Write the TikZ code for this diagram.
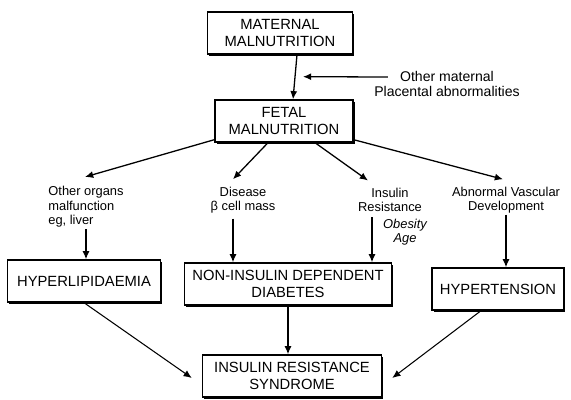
\documentclass[tikz,border=0pt]{standalone}
\usepackage{fontspec}
\setsansfont{Liberation Sans}
\usetikzlibrary{arrows.meta,calc,shadows}

\begin{document}
\begin{tikzpicture}[x=0.03cm,y=-0.03cm,
  box/.style={draw,line width=1.2pt,fill=white,align=center,minimum height=1.26cm,
    font=\sffamily\fontsize{12.6}{15}\selectfont,
    drop shadow={shadow xshift=1.3pt,shadow yshift=-1.3pt,opacity=1,fill=black}},
  lbl/.style={align=center,font=\sffamily\fontsize{11}{12.5}\selectfont,inner sep=1pt},
  arr/.style={line width=1.1pt,-{Latex[length=7pt,width=6pt]}}]
\useasboundingbox (0,0) rectangle (571,400);
% boxes
\node[box,minimum width=4.35cm] (mat) at (280,33) {MATERNAL\\MALNUTRITION};
\node[box,minimum width=4.14cm] (fet) at (284,121) {FETAL\\MALNUTRITION};
\node[box,minimum width=4.6cm] (hyp) at (84,281) {HYPERLIPIDAEMIA};
\node[box,minimum width=6.2cm] (nidd) at (288,284) {NON-INSULIN DEPENDENT\\DIABETES};
\node[box,minimum width=3.95cm] (ht) at (498,289) {HYPERTENSION};
\node[box,minimum width=5.37cm] (irs) at (292,376) {INSULIN RESISTANCE\\SYNDROME};
% labels
\node[lbl,font=\sffamily\fontsize{12}{13}\selectfont] (oth) at (447,84) {Other maternal\\Placental abnormalities};
\node[lbl,align=left] (org) at (86,207) {Other organs\\malfunction\\eg, liver};
\node[lbl] (dis) at (243,200) {Disease\\β cell mass};
\node[lbl] (ins) at (390,200) {Insulin\\Resistance};
\node[lbl] (avd) at (506,200) {Abnormal Vascular\\Development};
\node[lbl,font=\sffamily\itshape\fontsize{11}{12.5}\selectfont] (ob) at (405,232) {Obesity\\Age};
% helper points
\coordinate (d1) at ($(dis.south)+(-10,4)$);
\coordinate (i1) at ($(ins.south)+(-18,4)$);
% arrows
\draw[arr] ($(oth.west)+(15,-7)$) -- ($(mat.south)+(23,22)$);
\draw[arr] ($(mat.south)+(17,0)$) -- ($(fet.north)+(9,0)$);
\draw[arr] ($(fet.south west)+(0,-3)$) -- ($(org.north)+(-1,-8)$);
\draw[arr] ($(fet.south)+(-16,0)$) -- ($(dis.north)+(-10,-6)$);
\draw[arr] ($(fet.south)+(31,0)$) -- ($(ins.north)+(-22,-6)$);
\draw[arr] ($(fet.south east)+(0,-3)$) -- ($(avd.north)+(-3,-6)$);
\draw[arr] (org.south) -- (org.south |- hyp.north);
\draw[arr] (d1) -- (d1 |- nidd.north);
\draw[arr] (i1) -- (i1 |- nidd.north);
\draw[arr] (avd.south) -- (avd.south |- ht.north);
\draw[arr,line width=0.9pt] (hyp.south) -- ($(irs.west)+(-10,2)$);
\draw[arr] (nidd.south) -- (nidd.south |- irs.north);
\draw[arr,line width=0.9pt] ($(ht.south)+(-17,0)$) -- ($(irs.east)+(10,2)$);
\end{tikzpicture}
\end{document}
